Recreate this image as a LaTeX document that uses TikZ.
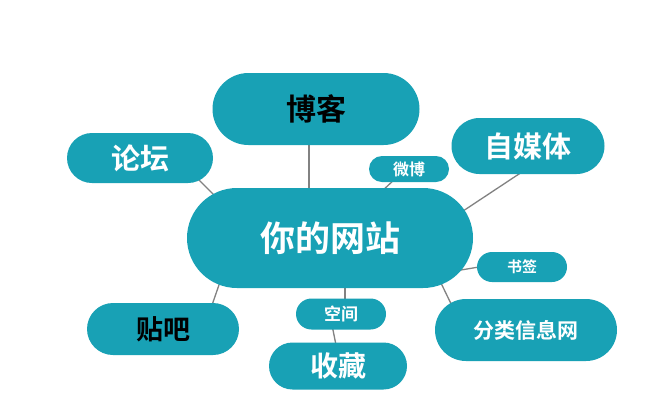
\documentclass[tikz,border=0pt]{standalone}
\usepackage{fontspec}
\newfontfamily\cjk[BoldFont={Noto Sans CJK SC Bold}]{Noto Sans CJK SC}
\usetikzlibrary{shapes.misc,calc,backgrounds}
\definecolor{teal1}{RGB}{24,161,181}
\definecolor{linegray}{RGB}{130,130,130}
\tikzset{
  bub/.style={rounded rectangle, fill=teal1, inner sep=0pt, text=white, font=\cjk\bfseries},
  dark/.style={text=black},
  link/.style={draw=linegray, line width=1.3pt},
  fs/.style={font=\cjk\bfseries\fontsize{#1}{#1}\selectfont}
}
\begin{document}
\begin{tikzpicture}[x=1pt,y=-1pt]
\useasboundingbox (0,0) rectangle (667,400);
\node[bub,dark,fs=30,minimum width=207pt,minimum height=72pt] (blog) at (316,109) {博客};
\node[bub,fs=29,minimum width=146pt,minimum height=50pt] (forum) at (140,158) {论坛};
\node[bub,fs=29,minimum width=153pt,minimum height=56pt] (media) at (528,146) {自媒体};
\node[bub,fs=16,minimum width=80pt,minimum height=26pt] (weibo) at (409,169) {微博};
\node[bub,fs=35,minimum width=286pt,minimum height=100pt] (site) at (330,238) {你的网站};
\node[bub,fs=15,minimum width=90pt,minimum height=30pt] (book) at (522,267) {书签};
\node[bub,fs=21,minimum width=182pt,minimum height=62pt] (info) at (526,330) {分类信息网};
\node[bub,dark,fs=27,minimum width=152pt,minimum height=52pt] (tieba) at (163,329) {贴吧};
\node[bub,fs=17,minimum width=90pt,minimum height=31pt] (space) at (341,314) {空间};
\node[bub,fs=28,minimum width=138pt,minimum height=47pt] (fav) at (338,366) {收藏};
\begin{scope}[on background layer]
\fill[white] (0,0) rectangle (667,400);
\draw[link] ($(blog.center)+(-7,31)$) -- ($(site.center)+(-21,-43)$);
\draw[link] ($(forum.center)+(50,13)$) -- ($(site.center)+(-108,-35)$);
\draw[link] ($(weibo.center)+(-13,9)$) -- ($(site.center)+(50,-45)$);
\draw[link] ($(media.center)+(-3,24)$) -- ($(site.center)+(130,-25)$);
\draw[link] ($(book.center)+(-37,-1)$) -- ($(site.center)+(125,33)$);
\draw[link] ($(info.center)+(-71,-18)$) -- ($(site.center)+(110,43)$);
\draw[link] ($(tieba.center)+(48,-21)$) -- ($(site.center)+(-110,44)$);
\draw[link] ($(space.center)+(4,-9)$) -- ($(site.center)+(15,42)$);
\draw[link] ($(space.center)+(-9,11)$) -- ($(fav.center)+(-1,-16)$);
\end{scope}
\end{tikzpicture}
\end{document}
